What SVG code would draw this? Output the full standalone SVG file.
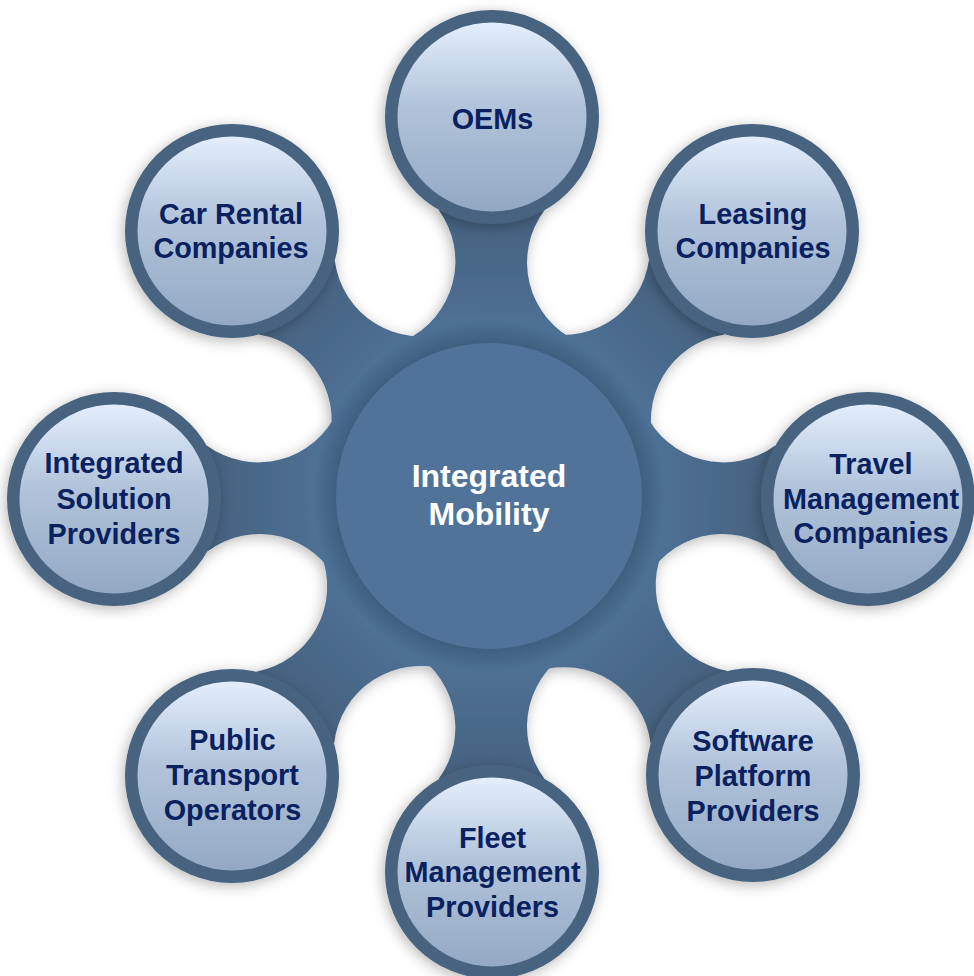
<svg xmlns="http://www.w3.org/2000/svg" width="974" height="976" viewBox="0 0 974 976">
<defs>
<style>
.ring{fill:#47637f}
.inner{fill:url(#innerGrad)}
.neck{fill:url(#neckGrad)}
.lbl{font-family:"Liberation Sans",Arial,sans-serif;font-weight:bold;font-size:28.8px;fill:#0a215f;text-anchor:middle}
.hubl{font-family:"Liberation Sans",Arial,sans-serif;font-weight:bold;font-size:32px;fill:#ffffff;text-anchor:middle}
</style>
<linearGradient id="innerGrad" x1="0" y1="0" x2="0" y2="1">
<stop offset="0" stop-color="#e3eefd"/>
<stop offset="0.45" stop-color="#b0c3da"/>
<stop offset="1" stop-color="#93a9c3"/>
</linearGradient>
<linearGradient id="neckGrad" gradientUnits="userSpaceOnUse" x1="0" y1="-170" x2="0" y2="-280">
<stop offset="0" stop-color="#4e7095"/>
<stop offset="1" stop-color="#46627f"/>
</linearGradient>
<radialGradient id="halo" cx="0.5" cy="0.5" r="0.5">
<stop offset="0" stop-color="#2c4660" stop-opacity="0.55"/>
<stop offset="0.84" stop-color="#2c4660" stop-opacity="0.5"/>
<stop offset="1" stop-color="#2c4660" stop-opacity="0"/>
</radialGradient>
<filter id="shadow" x="-30%" y="-30%" width="160%" height="160%">
<feGaussianBlur in="SourceAlpha" stdDeviation="7"/>
<feOffset dx="-2" dy="3" result="b"/>
<feFlood flood-color="#000" flood-opacity="0.28"/>
<feComposite in2="b" operator="in"/>
<feMerge><feMergeNode/><feMergeNode in="SourceGraphic"/></feMerge>
</filter>
</defs>
<rect width="974" height="976" fill="#ffffff"/>

<g id="connectors" filter="url(#shadow)">
<path class="neck" transform="translate(490,497) rotate(0.3)" d="M0,0 L-86.2,-156.2 A87,87 0 0 0 -53,-287 L53,-287 A87,87 0 0 0 86.2,-156.2 Z"/>
<path class="neck" transform="translate(490,497) rotate(44.56)" d="M0,0 L-86.2,-149.6 A87,87 0 0 0 -53,-280.4 L53,-280.4 A87,87 0 0 0 86.2,-149.6 Z"/>
<path class="neck" transform="translate(490,497) rotate(90.3)" d="M0,0 L-86.2,-154.2 A87,87 0 0 0 -53,-285 L53,-285 A87,87 0 0 0 86.2,-154.2 Z"/>
<path class="neck" transform="translate(490,497) rotate(136.58)" d="M0,0 L-86.2,-158.9 A87,87 0 0 0 -53,-289.7 L53,-289.7 A87,87 0 0 0 86.2,-158.9 Z"/>
<path class="neck" transform="translate(490,497) rotate(179.7)" d="M0,0 L-86.2,-151.2 A87,87 0 0 0 -53,-282 L53,-282 A87,87 0 0 0 86.2,-151.2 Z"/>
<path class="neck" transform="translate(490,497) rotate(222.76)" d="M0,0 L-86.2,-156.2 A87,87 0 0 0 -53,-287 L53,-287 A87,87 0 0 0 86.2,-156.2 Z"/>
<path class="neck" transform="translate(490,497) rotate(269.7)" d="M0,0 L-86.2,-152.2 A87,87 0 0 0 -53,-283 L53,-283 A87,87 0 0 0 86.2,-152.2 Z"/>
<path class="neck" transform="translate(490,497) rotate(315.88)" d="M0,0 L-86.2,-146.8 A87,87 0 0 0 -53,-277.6 L53,-277.6 A87,87 0 0 0 86.2,-146.8 Z"/>
</g>

<g id="hub">
<circle cx="489" cy="496" r="176" fill="url(#halo)"/>
<circle cx="489" cy="496" r="153" fill="#51739a"/>
<text class="hubl" x="489" y="487">Integrated</text>
<text class="hubl" x="489" y="525">Mobility</text>
</g>

<g id="oems">
<circle class="ring" cx="492" cy="117" r="107" filter="url(#shadow)"/>
<circle class="inner" cx="492" cy="117" r="94.5"/>
<text class="lbl" x="492.5" y="128.5">OEMs</text>
</g>

<g id="leasing">
<circle class="ring" cx="752" cy="231" r="107" filter="url(#shadow)"/>
<circle class="inner" cx="752" cy="231" r="94.5"/>
<text class="lbl" x="753" y="224">Leasing</text>
<text class="lbl" x="753" y="258">Companies</text>
</g>

<g id="travel">
<circle class="ring" cx="868" cy="499" r="107" filter="url(#shadow)"/>
<circle class="inner" cx="868" cy="499" r="94.5"/>
<text class="lbl" x="871" y="474">Travel</text>
<text class="lbl" x="871" y="508.5">Management</text>
<text class="lbl" x="871" y="543">Companies</text>
</g>

<g id="software">
<circle class="ring" cx="753" cy="775" r="107" filter="url(#shadow)"/>
<circle class="inner" cx="753" cy="775" r="94.5"/>
<text class="lbl" x="753" y="751">Software</text>
<text class="lbl" x="753" y="786">Platform</text>
<text class="lbl" x="753" y="821">Providers</text>
</g>

<g id="fleet">
<circle class="ring" cx="492" cy="872" r="107" filter="url(#shadow)"/>
<circle class="inner" cx="492" cy="872" r="94.5"/>
<text class="lbl" x="492.5" y="847.5">Fleet</text>
<text class="lbl" x="492.5" y="882">Management</text>
<text class="lbl" x="492.5" y="917">Providers</text>
</g>

<g id="public">
<circle class="ring" cx="232" cy="776" r="107" filter="url(#shadow)"/>
<circle class="inner" cx="232" cy="776" r="94.5"/>
<text class="lbl" x="232.5" y="750">Public</text>
<text class="lbl" x="232.5" y="785">Transport</text>
<text class="lbl" x="232.5" y="820">Operators</text>
</g>

<g id="integrated-solution">
<circle class="ring" cx="114" cy="499" r="107" filter="url(#shadow)"/>
<circle class="inner" cx="114" cy="499" r="94.5"/>
<text class="lbl" x="114" y="473">Integrated</text>
<text class="lbl" x="114" y="509">Solution</text>
<text class="lbl" x="114" y="544">Providers</text>
</g>

<g id="car-rental">
<circle class="ring" cx="232" cy="231" r="107" filter="url(#shadow)"/>
<circle class="inner" cx="232" cy="231" r="94.5"/>
<text class="lbl" x="231" y="224">Car Rental</text>
<text class="lbl" x="231" y="258">Companies</text>
</g>
</svg>
